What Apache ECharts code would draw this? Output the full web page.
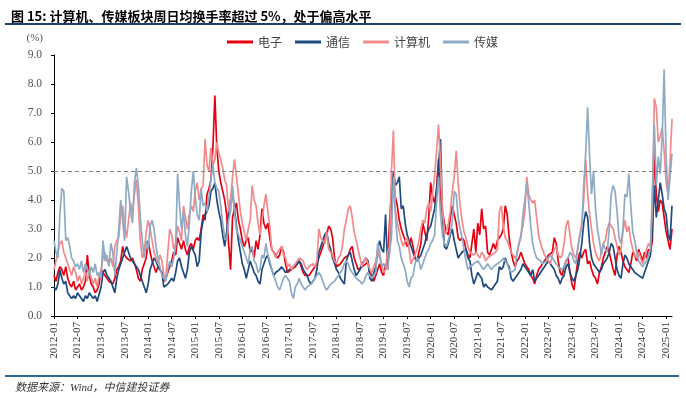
<!DOCTYPE html>
<html>
<head>
<meta charset="utf-8">
<script src="https://cdn.jsdelivr.net/npm/echarts/dist/echarts.min.js"></script>
</head>
<body style="margin:0;background:#fff">
<div id="container" style="width:686px;height:398px"></div>
<script type="text/javascript">
// weekly avg daily turnover (%) at ~2 points per month, 2012-01 .. 2025-02
const dianzi = [
  1.4,1.2,1.5,1.7,1.6,1.4,1.7,1.3,1.1,1.0,1.2,0.9,
  1.0,1.1,0.9,1.0,1.2,2.1,1.4,1.1,1.0,0.8,0.9,1.1,
  1.6,1.5,1.4,1.3,1.2,1.2,1.1,1.3,1.6,1.7,1.9,2.4,
  2.1,2.0,2.0,1.9,2.0,1.8,1.6,1.3,1.2,1.6,1.8,2.0,
  2.6,2.2,1.9,1.7,1.5,1.7,1.6,1.5,1.2,1.3,1.5,1.7,
  1.9,2.2,2.1,2.7,2.5,2.3,2.6,2.3,2.1,2.4,2.5,2.3,
  2.6,2.7,2.6,3.0,3.5,3.3,4.2,4.4,4.7,5.8,7.6,5.8,
  5.0,4.6,4.3,4.0,3.5,2.5,1.6,3.4,3.7,3.9,3.3,3.0,
  2.6,2.4,2.6,2.7,2.2,2.3,2.0,2.6,2.3,2.8,3.7,3.2,
  3.0,3.2,2.7,2.3,2.2,2.1,2.0,2.1,2.4,2.2,1.8,1.5,
  1.5,1.6,1.6,1.7,1.8,1.9,1.7,1.5,1.4,1.4,1.4,1.5,
  1.6,1.7,1.8,2.0,2.2,2.4,2.6,2.8,3.1,3.0,2.7,2.0,
  1.7,1.7,1.8,1.9,2.0,2.0,2.1,2.3,2.4,2.0,1.8,1.6,
  1.6,1.7,1.7,1.8,1.9,1.5,1.4,1.2,1.4,1.6,1.8,1.5,
  1.4,1.8,1.6,3.2,4.3,4.7,4.1,3.8,3.3,3.0,2.8,2.6,
  2.4,2.5,2.7,2.4,2.0,1.9,2.2,2.5,3.2,2.9,2.6,3.4,
  4.6,4.1,3.9,4.4,5.4,4.0,3.6,3.2,2.9,2.8,3.4,3.8,
  3.5,3.2,2.7,2.6,2.7,2.6,2.3,2.1,2.0,2.5,3.0,2.2,
  3.2,2.8,3.7,3.0,3.1,2.2,2.1,2.3,2.5,2.3,2.6,2.7,
  2.8,3.0,3.8,3.5,2.7,2.2,1.9,1.7,1.9,2.0,2.2,2.0,
  1.8,1.7,1.6,1.4,1.3,1.1,1.4,1.6,1.7,1.8,1.9,2.0,
  2.1,2.1,2.2,2.7,2.5,1.9,1.5,1.4,1.7,1.9,2.0,1.5,
  1.1,0.9,1.4,1.9,2.2,2.0,2.2,2.3,1.8,1.9,1.6,1.4,
  1.3,1.1,1.5,1.7,2.0,2.2,2.4,2.2,1.9,1.6,1.4,2.1,
  2.4,2.2,1.9,1.7,1.6,1.5,1.8,2.2,2.1,1.9,2.3,2.1,
  1.9,2.2,2.0,2.3,2.2,2.6,5.8,4.2,3.6,4.0,3.9,3.4,
  2.9,2.6,2.3,3.0
];
const tongxin = [
  1.0,0.9,1.1,1.6,1.3,1.1,1.2,0.8,0.7,0.6,0.7,0.6,
  0.8,0.7,0.6,0.5,0.7,0.6,0.8,0.7,0.6,0.7,0.5,0.5,
  1.0,1.5,1.6,1.4,1.3,1.2,1.0,0.8,1.3,1.6,1.8,2.0,
  2.2,2.4,2.2,2.0,1.9,1.8,1.7,1.6,1.4,1.2,1.0,0.8,
  1.1,1.6,1.8,2.0,1.9,1.7,1.6,1.5,1.0,0.95,1.1,1.2,
  1.3,1.2,1.5,1.9,2.0,1.7,1.5,1.3,1.6,2.2,2.4,2.4,
  2.1,1.7,1.9,2.9,3.3,3.5,3.6,3.8,4.3,4.4,4.6,4.0,
  3.6,3.3,2.8,2.4,2.9,3.6,4.0,4.2,3.7,3.1,2.6,2.2,
  1.8,1.6,1.3,1.6,1.9,1.7,1.5,1.4,1.2,1.1,1.6,1.8,
  2.0,2.1,1.8,1.6,1.4,1.5,1.5,1.6,1.7,1.6,1.5,1.5,
  1.6,1.6,1.7,1.7,1.8,1.9,1.8,1.6,1.5,1.4,1.2,1.1,
  1.2,1.3,1.6,2.2,2.4,2.6,2.8,2.9,2.5,2.3,2.0,1.8,
  1.6,1.5,1.3,1.2,1.1,1.9,2.1,2.2,1.9,1.6,1.4,1.4,
  1.6,1.8,1.9,2.0,1.9,1.3,1.2,1.5,1.7,2.3,2.6,2.3,
  2.2,3.5,1.8,2.2,4.1,5.0,4.5,4.6,4.8,3.7,3.8,3.2,
  2.8,2.6,2.4,2.2,2.0,1.9,2.0,2.1,2.3,2.5,2.8,3.0,
  3.1,3.4,3.7,4.3,5.2,6.1,3.4,2.4,2.3,2.5,2.8,3.0,
  2.6,2.3,2.0,2.1,2.2,2.2,2.3,2.0,1.9,1.4,1.1,1.3,
  1.5,1.4,1.3,1.0,1.1,1.0,1.0,0.9,0.95,1.1,1.2,1.7,
  1.6,1.7,2.0,1.8,1.7,1.3,1.2,1.3,1.4,1.5,1.6,1.8,
  1.7,1.6,1.5,1.4,1.6,1.2,1.3,1.4,1.5,1.6,1.7,1.8,
  1.9,1.8,1.7,1.6,1.4,1.3,1.1,1.3,1.4,1.7,1.8,1.5,
  1.3,1.2,1.4,1.6,2.0,2.5,3.2,3.6,3.4,2.5,2.0,1.8,
  1.7,1.6,1.5,1.6,1.8,1.9,2.0,2.2,2.5,2.4,2.0,1.6,
  1.4,1.3,1.8,2.1,2.0,1.8,1.7,1.6,1.5,1.5,1.4,1.4,
  1.3,1.5,1.7,1.9,2.1,3.0,4.5,3.4,4.0,4.6,4.2,3.7,
  3.5,2.8,2.6,3.8
];
const jisuanji = [
  1.6,1.9,2.2,2.5,2.6,2.2,2.0,1.8,1.6,1.4,1.7,1.5,
  1.2,1.4,1.1,1.3,1.5,1.2,1.6,1.3,1.1,1.3,1.0,1.4,
  1.6,2.0,2.2,1.9,1.8,2.0,1.7,2.4,2.6,2.7,3.5,3.8,
  3.1,2.7,3.3,3.9,3.5,4.2,4.7,3.8,2.6,2.0,2.2,2.9,
  3.3,3.0,2.6,2.2,2.0,1.8,2.1,1.9,1.4,1.3,2.2,3.0,
  2.8,2.3,2.5,3.1,2.9,2.6,3.8,3.4,3.0,3.5,3.8,3.6,
  4.3,4.6,4.0,4.4,4.5,6.1,5.2,5.0,5.8,5.2,5.4,6.0,
  5.6,5.4,5.1,4.7,4.5,3.6,4.0,4.8,5.4,4.8,4.2,3.6,
  3.2,2.9,2.6,3.0,3.3,4.5,4.0,3.8,3.2,2.8,3.3,3.8,
  4.2,3.6,3.1,2.3,2.2,2.0,2.2,2.3,2.4,2.1,2.0,1.7,
  1.8,1.6,1.7,1.8,1.9,2.0,2.0,1.9,1.7,1.6,1.7,1.7,
  1.8,1.7,1.9,3.0,2.7,2.6,2.5,2.9,2.3,2.2,2.1,1.9,
  1.8,2.0,2.1,2.4,3.0,3.3,3.7,3.8,3.4,2.9,2.6,2.3,
  2.0,1.7,1.9,2.0,1.8,1.6,1.5,1.7,1.9,2.2,2.0,1.8,
  1.5,1.6,2.2,2.4,5.0,6.4,3.7,3.2,2.9,2.6,2.4,2.6,
  2.7,2.3,1.8,1.8,2.1,2.3,2.6,3.0,3.3,3.2,3.7,3.9,
  3.6,4.2,4.8,5.7,6.6,5.3,3.7,2.8,2.9,3.2,3.6,4.3,
  4.8,5.7,4.6,3.8,3.3,2.9,2.7,2.4,2.2,2.2,2.1,2.2,
  2.1,2.0,2.2,2.1,1.9,2.0,2.0,2.1,2.1,2.2,2.3,3.6,
  3.8,3.1,2.7,2.6,2.4,2.2,2.1,2.0,2.1,2.5,2.8,3.1,
  3.6,4.8,4.2,4.0,3.9,4.0,3.4,2.8,2.5,2.3,2.1,2.0,
  1.9,1.8,2.1,2.3,2.4,2.1,2.0,2.1,2.5,3.1,3.3,2.8,
  2.3,2.1,2.0,2.3,2.8,3.2,4.0,5.4,4.2,3.5,3.0,2.5,
  2.2,2.0,1.9,2.2,2.5,2.6,3.0,3.2,3.1,3.0,2.7,2.4,
  2.1,2.3,2.9,3.3,2.9,3.1,2.6,2.3,2.1,2.0,2.2,2.0,
  1.8,2.0,2.3,2.5,2.4,3.8,7.5,7.2,6.0,6.2,6.5,5.7,
  4.6,4.2,5.3,6.8
];
const chuanmei = [
  2.6,2.2,2.0,3.5,4.4,4.3,2.6,2.7,2.4,2.0,1.9,1.7,
  1.8,1.6,1.9,1.5,1.8,1.6,1.4,1.7,1.5,1.8,1.4,1.5,
  1.3,2.6,1.9,2.1,1.7,2.5,2.2,1.4,2.2,3.0,4.0,3.3,
  2.6,4.8,4.3,3.6,3.2,4.6,5.1,4.5,3.4,2.6,2.0,2.6,
  2.3,3.1,3.3,3.0,2.4,2.0,1.7,1.4,1.4,1.2,1.6,1.9,
  1.7,2.0,2.4,4.9,3.8,3.0,3.6,2.8,2.4,3.2,4.3,5.0,
  4.1,3.5,3.3,4.4,3.8,3.9,3.6,4.1,4.7,5.2,4.6,4.4,
  4.3,3.8,3.2,2.7,2.6,3.3,3.6,4.5,3.6,3.0,2.8,2.6,
  2.4,2.2,2.0,1.8,2.3,2.4,1.9,1.8,1.5,1.6,2.1,2.0,
  2.5,2.1,1.9,1.6,1.4,1.2,1.0,0.9,1.1,1.3,1.4,1.3,
  1.2,0.8,0.6,1.0,1.1,1.3,1.1,1.0,0.9,1.0,1.0,1.1,
  1.2,1.3,1.4,1.5,1.4,1.2,1.0,0.9,1.0,1.1,1.1,1.2,
  1.3,1.4,1.5,1.6,1.8,1.9,1.8,1.6,1.5,1.4,1.3,1.3,
  1.2,1.1,1.2,1.4,1.5,1.4,1.3,1.4,1.5,2.5,2.2,1.7,
  1.8,1.7,1.6,2.2,2.7,4.8,3.5,2.6,2.4,2.0,1.8,1.6,
  1.2,1.0,1.3,1.4,1.8,2.0,1.9,1.6,1.8,2.0,2.2,2.3,
  2.5,2.6,2.8,3.9,4.8,3.5,2.8,2.5,2.4,2.6,2.9,3.2,
  4.3,4.2,3.4,3.0,2.7,2.3,1.9,1.6,1.7,1.7,1.8,1.8,
  1.9,1.8,1.7,1.6,1.7,1.8,1.7,1.6,1.7,1.7,1.8,1.8,
  1.9,2.0,1.9,1.8,1.6,1.5,1.5,1.6,2.2,2.5,2.7,3.5,
  4.0,4.6,3.9,3.1,2.5,2.2,2.0,2.0,1.9,1.8,1.8,1.9,
  2.0,2.1,2.0,1.9,1.8,1.7,1.7,1.6,1.7,1.9,2.0,2.2,
  2.1,1.9,1.8,2.4,2.8,3.0,4.5,5.6,7.2,5.5,4.2,5.0,
  3.7,3.0,2.6,2.1,2.5,2.3,2.2,3.0,4.2,4.5,4.3,3.6,
  2.7,2.5,3.0,4.2,4.1,4.9,3.8,2.9,2.6,2.2,1.9,1.8,
  1.7,1.7,1.9,2.1,2.3,4.3,6.6,4.5,5.5,4.9,6.2,8.5,
  5.5,4.0,4.8,5.6
];
const seriesNames = ['电子', '通信', '计算机', '传媒'];
const seriesColors = ['#e60012', '#1f4a7d', '#f28a8c', '#8eaac4'];
const threshold = 5;

// half-monthly points; every 12th one carries a YYYY-MM label
const categories = [];
for (let y = 2012; y <= 2025; y++) {
    for (let m = 1; m <= 12; m++) {
        for (const d of ['01', '16']) {
            if (categories.length < dianzi.length) {
                categories.push(y + '-' + String(m).padStart(2, '0') + '-' + d);
            }
        }
    }
}

var dom = document.getElementById('container');
var myChart = echarts.init(dom);
var option;

const allData = [dianzi, tongxin, jisuanji, chuanmei];
const series = allData.map(function (d, i) {
    const s = {
        name: seriesNames[i],
        type: 'line',
        data: d,
        symbol: 'none',
        lineStyle: { width: 1.7, color: seriesColors[i] },
        itemStyle: { color: seriesColors[i] }
    };
    if (i === 0) {
        s.markLine = {
            silent: true,
            symbol: 'none',
            label: { show: false },
            lineStyle: { type: [4, 3], color: '#7f7f7f', width: 1.2 },
            data: [{ yAxis: threshold }]
        };
    }
    return s;
});

option = {
    animation: false,
    title: {
        text: '图 15: 计算机、传媒板块周日均换手率超过 5%，处于偏高水平',
        left: 6,
        top: 5,
        textStyle: { fontFamily: 'Noto Sans CJK SC', fontSize: 13, fontWeight: 'bold', color: '#000' }
    },
    legend: {
        data: seriesNames,
        left: 222,
        top: 31,
        icon: 'rect',
        itemWidth: 26,
        itemHeight: 3,
        itemGap: 13,
        textStyle: { fontFamily: 'Noto Sans CJK SC', fontSize: 12, color: '#444' }
    },
    graphic: [
        { type: 'rect', shape: { x: 5, y: 23, width: 676, height: 2 }, style: { fill: '#1f3f6e' } },
        { type: 'rect', shape: { x: 5, y: 375, width: 674, height: 2 }, style: { fill: '#2d6a9c' } },
        {
            type: 'text', left: 15, top: 383,
            style: {
                text: '数据来源：Wind，中信建投证券',
                font: 'italic 11px "Liberation Serif", "Noto Sans CJK SC"',
                fill: '#333'
            }
        }
    ],
    grid: { left: 54, right: 14, top: 55, bottom: 82 },
    xAxis: {
        type: 'category',
        data: categories,
        boundaryGap: false,
        axisLine: { lineStyle: { color: '#000', width: 1 } },
        axisTick: { interval: function (i) { return i % 12 === 0; }, length: 3, lineStyle: { color: '#000' } },
        axisLabel: {
            interval: function (i) { return i % 12 === 0; },
            rotate: 90,
            margin: 6,
            fontFamily: 'Liberation Serif',
            fontSize: 11,
            color: '#333',
            formatter: function (v) { return v.slice(0, 7); }
        }
    },
    yAxis: {
        type: 'value',
        min: 0,
        max: 9,
        interval: 1,
        name: '(%)',
        nameLocation: 'end',
        nameGap: 11,
        nameTextStyle: { fontFamily: 'Liberation Serif', fontSize: 11, color: '#555', align: 'right', padding: [0, 11, 0, 0] },
        axisLine: { show: true, lineStyle: { color: '#000', width: 1 } },
        axisTick: { show: true, length: 3, lineStyle: { color: '#000' } },
        splitLine: { show: false },
        axisLabel: {
            margin: 12,
            fontFamily: 'Liberation Serif',
            fontSize: 11.5,
            color: '#555',
            formatter: function (v) { return v.toFixed(1); }
        }
    },
    series: series
};

if (option && typeof option === 'object') {
    myChart.setOption(option);
}
</script>
</body>
</html>
